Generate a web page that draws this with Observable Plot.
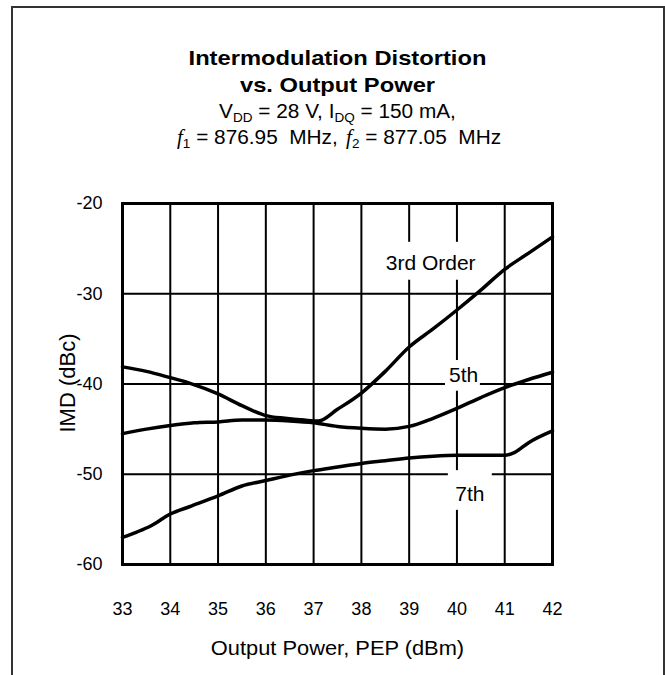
<!DOCTYPE html>
<html><head><meta charset="utf-8">
<script src="https://cdn.jsdelivr.net/npm/d3@7"></script>
<script src="https://cdn.jsdelivr.net/npm/@observablehq/plot@0.6"></script>
<style>
body{margin:0;background:#fff;font-family:Arial,"Liberation Sans",sans-serif;color:#000;}
#wrap{position:relative;width:665px;height:675px;overflow:hidden;background:#fff;}
#border{position:absolute;left:11px;top:6px;width:650px;height:720px;border:2px solid #333;border-bottom:none;}
.t{position:absolute;left:12px;width:651px;text-align:center;line-height:26px;white-space:nowrap;}
.b{font-weight:bold;font-size:21px;transform:scaleX(1.13);}
.s{font-size:20px;transform:scaleX(1.04);}
.sub{font-size:13px;position:relative;top:4px;}
.f{font-family:"Liberation Serif","DejaVu Serif",serif;font-style:italic;font-size:20px;margin-left:3px;}
.f2{margin-left:8px;}
#chart{position:absolute;left:0;top:150px;}
#xl{position:absolute;left:0;width:675px;text-align:center;top:636px;font-size:21px;transform:scaleX(1.04);}
#yl{position:absolute;left:68px;top:383px;font-size:22px;transform:translate(-50%,-50%) rotate(-90deg);white-space:nowrap;}
</style></head>
<body><div id="wrap">
<div id="border"></div>
<div class="t b" style="top:45px">Intermodulation Distortion</div>
<div class="t b" style="top:72px">vs. Output Power</div>
<div class="t s" style="top:98px">V<span class="sub">DD</span> = 28 V, I<span class="sub">DQ</span> = 150 mA,</div>
<div class="t s" style="top:124px"><span class="f">f</span><span class="sub">1</span> = 876.95&nbsp; MHz,<span class="f f2">f</span><span class="sub">2</span> = 877.05&nbsp; MHz</div>
<div id="chart"></div>
<div id="xl">Output Power, PEP (dBm)</div>
<div id="yl">IMD (dBc)</div>
</div>
<script>
const xTicks = [33, 34, 35, 36, 37, 38, 39, 40, 41, 42];
const yTicks = [-60, -50, -40, -30, -20];

const thirdX = [33, 33.5, 34, 34.4, 35, 35.5, 36, 36.4, 36.8, 37.1, 37.5, 38, 38.5, 39, 39.5, 40, 40.5, 41, 41.5, 42];
const thirdY = [-38.1, -38.6, -39.3, -39.9, -41.1, -42.4, -43.5, -43.8, -44.0, -44.1, -42.8, -41.0, -38.6, -35.9, -33.9, -31.8, -29.6, -27.3, -25.5, -23.7];

const fifthX = [33, 33.5, 34, 34.5, 35, 35.5, 36, 36.5, 37, 37.5, 38, 38.5, 39, 39.5, 40, 40.5, 41, 41.5, 42];
const fifthY = [-45.5, -45.0, -44.6, -44.3, -44.2, -44.0, -44.0, -44.1, -44.3, -44.7, -44.9, -45.0, -44.7, -43.8, -42.7, -41.5, -40.4, -39.5, -38.7];

const seventhX = [33, 33.3, 33.6, 34, 34.4, 35, 35.5, 36, 36.5, 37, 37.5, 38, 38.5, 39, 39.5, 40, 40.5, 41, 41.2, 41.5, 42];
const seventhY = [-57.0, -56.4, -55.7, -54.4, -53.6, -52.4, -51.3, -50.7, -50.1, -49.6, -49.2, -48.8, -48.5, -48.2, -48.0, -47.9, -47.9, -47.9, -47.6, -46.5, -45.2];

const labelText = ["3rd Order", "5th", "7th"];
const labelX = [39.45, 40.14, 40.27];
const labelY = [-26.6, -39.05, -52.2];
// white boxes behind labels (data units) that break the grid
const boxX1 = [38.5, 39.76, 39.82];
const boxX2 = [40.39, 40.49, 40.74];
const boxY1 = [-24.3, -37.4, -49.6];
const boxY2 = [-28.5, -40.8, -54.0];

const rows = [];
thirdX.forEach((x, i) => rows.push({series: "3rd", x, y: thirdY[i]}));
fifthX.forEach((x, i) => rows.push({series: "5th", x, y: fifthY[i]}));
seventhX.forEach((x, i) => rows.push({series: "7th", x, y: seventhY[i]}));
const labels = labelText.map((t, i) => ({t, x: labelX[i], y: labelY[i]}));
const boxes = labelText.map((t, i) => ({x1: boxX1[i], x2: boxX2[i], y1: boxY1[i], y2: boxY2[i]}));

const chart = Plot.plot({
  width: 665, height: 520,
  marginLeft: 122, marginRight: 113, marginTop: 53, marginBottom: 106,
  style: {fontFamily: 'Arial, "Liberation Sans", sans-serif', fontSize: "18px", color: "#000", background: "transparent"},
  x: {domain: [33, 42], ticks: xTicks, label: null},
  y: {domain: [-60, -20], ticks: yTicks, label: null},
  marks: [
    Plot.gridX(xTicks, {stroke: "#000", strokeOpacity: 1, strokeWidth: 2}),
    Plot.gridY(yTicks, {stroke: "#000", strokeOpacity: 1, strokeWidth: 2}),
    Plot.rect(boxes, {x1: "x1", x2: "x2", y1: "y1", y2: "y2", fill: "white"}),
    Plot.frame({stroke: "#000", strokeWidth: 3}),
    Plot.line(rows, {x: "x", y: "y", z: "series", curve: "monotone-x", stroke: "#000", strokeWidth: 3.5}),
    Plot.text(labels, {x: "x", y: "y", text: "t", fontSize: 21, fill: "#000"}),
    Plot.axisX(xTicks, {tickSize: 0, tickPadding: 38, label: null}),
    Plot.axisY(yTicks, {tickSize: 0, tickPadding: 20, label: null, tickFormat: d => String(d)})
  ]
});
document.getElementById("chart").appendChild(chart);
</script>
</body></html>
